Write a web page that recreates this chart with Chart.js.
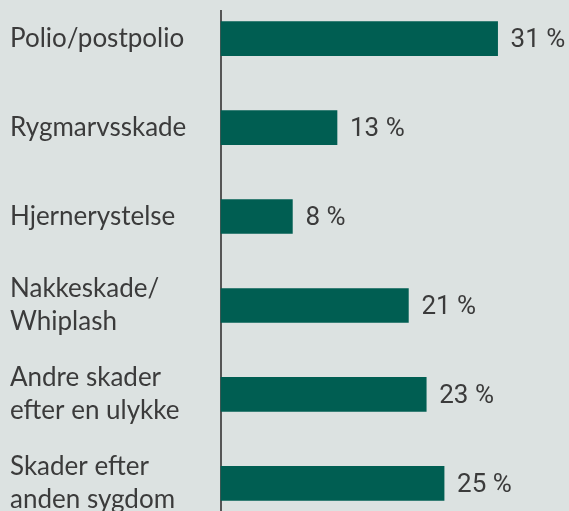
<!DOCTYPE html>
<html>
<head>
<meta charset="utf-8">
<script src="https://cdn.jsdelivr.net/npm/chart.js@4.4.0/dist/chart.umd.min.js"></script>
<style>
  html, body { margin: 0; padding: 0; background: #dce2e1; }
  #wrap { width: 569px; height: 511px; }
</style>
</head>
<body>
<div id="wrap"><canvas id="chart" width="569" height="511"></canvas></div>
<script>
// Categories (multi-line labels as arrays) and shares in percent
const categories = [
  ["Polio/postpolio"],
  ["Rygmarvsskade"],
  ["Hjernerystelse"],
  ["Nakkeskade/", "Whiplash"],
  ["Andre skader", "efter en ulykke"],
  ["Skader efter", "anden sygdom"]
];
const shares = [31, 13, 8, 21, 23, 25];

const barColor = '#005e52';
const textColor = '#3b3b3b';

// draws "31 %" etc. to the right of each bar
const valueLabels = {
  id: 'valueLabels',
  afterDatasetsDraw(chart) {
    const ctx = chart.ctx;
    const meta = chart.getDatasetMeta(0);
    ctx.save();
    ctx.font = '26px Roboto';
    ctx.fillStyle = textColor;
    ctx.textAlign = 'left';
    ctx.textBaseline = 'middle';
    meta.data.forEach((bar, i) => {
      ctx.fillText(shares[i] + ' %', bar.x + 13, bar.y + 2);
    });
    ctx.restore();
  }
};

const ctx = document.getElementById('chart').getContext('2d');
new Chart(ctx, {
  type: 'bar',
  data: {
    datasets: [{
      data: shares.map((v, i) => ({ x: v, y: i })),
      backgroundColor: barColor,
      barThickness: 34,
      clip: false
    }]
  },
  options: {
    indexAxis: 'y',
    responsive: false,
    animation: false,
    layout: { padding: { left: 10, top: 11, right: 0, bottom: 0 } },
    plugins: {
      legend: { display: false },
      tooltip: { enabled: false }
    },
    scales: {
      x: {
        type: 'linear',
        display: false,
        min: 0,
        max: 39
      },
      y: {
        type: 'linear',
        reverse: true,
        offset: false,
        min: -0.31,
        max: 5.31,
        afterBuildTicks: scale => {
          scale.ticks = categories.map((c, i) => ({ value: i }));
        },
        afterFit: scale => {
          scale.width = 211;
          scale.paddingTop = 0;
          scale.paddingBottom = 0;
        },
        grid: { display: false, drawTicks: false, offset: false },
        border: { display: true, color: '#555555', width: 2 },
        ticks: {
          crossAlign: 'far',
          autoSkip: false,
          color: textColor,
          font: { family: 'Lato', size: 26, lineHeight: 1.27 },
          callback: v => categories[v]
        }
      }
    }
  },
  plugins: [valueLabels]
});
</script>
</body>
</html>
